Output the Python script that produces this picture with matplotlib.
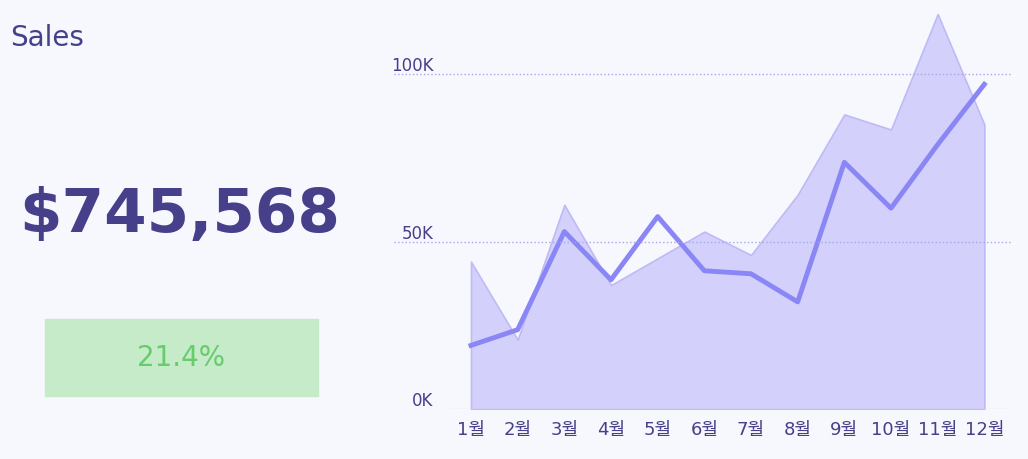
import matplotlib
matplotlib.use('Agg')
from matplotlib import pyplot as plt
from matplotlib.patches import Rectangle

plt.rcParams['font.family'] = ['DejaVu Sans', 'Noto Sans CJK KR']

months = ['1월', '2월', '3월', '4월', '5월', '6월', '7월', '8월', '9월', '10월', '11월', '12월']
prev_sales = [44000, 20700, 61000, 37000, 45000, 53000, 46000, 64000, 88000, 83500, 118000, 85000]
sales = [19000, 23700, 53000, 38600, 57500, 41300, 40400, 32000, 73700, 60000, 79000, 97000]
total_label = '$745,568'
growth_label = '21.4%'

bg = '#F7F7FE'
txt = '#463F8A'

fig = plt.figure(figsize=(10.28, 4.6), dpi=100, facecolor=bg)
ax = fig.add_axes([450/1028, 1-410/460, 560/1028, 405/460])
ax.set_facecolor(bg)
x = list(range(len(months)))
ax.fill_between(x, prev_sales, color='#D3D1FB', edgecolor='#BEBAF6', linewidth=1.2)
ax.plot(x, sales, color='#8A86F5', linewidth=3.5)
ax.set_xlim(-0.45, 11.55)
ax.set_ylim(0, 121000)
ax.set_xticks(x)
ax.set_xticklabels(months, fontsize=13, color=txt)
ax.set_yticks([0, 50000, 100000])
ax.set_yticklabels(['0K', '50K', '100K'], fontsize=12, color=txt)
ax.tick_params(length=0, pad=8)
ax.tick_params(axis='y', pad=12)
for lbl in ax.get_yticklabels():
    lbl.set_verticalalignment('bottom')
for yv in [50000, 100000]:
    ax.axhline(yv, color='#A9A4EE', linestyle=':', linewidth=1, xmin=-0.1, clip_on=False)
ax.axhline(0, color='#E4E3F5', linewidth=1)
for s in ax.spines.values():
    s.set_visible(False)

fig.text(10/1028, 1-38/460, 'Sales', fontsize=20, color=txt, va='center')
fig.text(180/1028, 1-216/460, total_label, fontsize=44, fontweight='bold', color=txt,
         ha='center', va='center')
fig.patches.append(Rectangle((45/1028, 1-397/460), 273/1028, 77/460,
                             transform=fig.transFigure, color='#C5EBC8'))
fig.text(181/1028, 1-358/460, growth_label, fontsize=20, color='#66CC6E', ha='center', va='center')

fig.savefig('out.png', dpi=100, facecolor=bg)
